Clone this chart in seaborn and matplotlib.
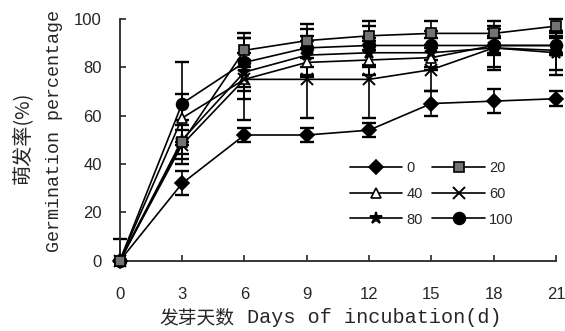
import matplotlib
matplotlib.use("Agg")
import matplotlib.pyplot as plt
import seaborn as sns
import pandas as pd
import numpy as np

days = [0, 3, 6, 9, 12, 15, 18, 21]
labels = ["0", "20", "40", "60", "80", "100"]
v0 = [0, 32, 52, 52, 54, 65, 66, 67]
v20 = [0, 49, 87, 91, 93, 94, 94, 97]
v40 = [0, 59, 75, 82, 83, 84, 89, 89]
v60 = [0, 48, 75, 75, 75, 79, 88, 87]
v80 = [0, 50, 78, 85, 86, 86, 88, 86]
v100 = [0, 65, 82, 88, 89, 89, 89, 89]
e0 = [0, 5, 3, 3, 3, 5, 5, 3]
e20 = [0, 5, 7, 7, 6, 5, 5, 3]
e40 = [0, 10, 8, 6, 6, 5, 3, 3]
e60 = [0, 8, 17, 16, 16, 9, 8, 8]
e80 = [0, 8, 8, 8, 6, 6, 9, 9]
e100 = [9, 17, 10, 8, 8, 6, 4, 4]

values = [v0, v20, v40, v60, v80, v100]
errors = [e0, e20, e40, e60, e80, e100]
markers = ["D", "s", "^", "x", "*", "o"]
faces = ["black", "0.45", "white", "black", "black", "black"]
msizes = [7.5, 7.5, 7, 8, 9, 8.5]
zorders = [3, 3.6, 3, 3, 3, 3.4]

sns.set_style("ticks")
mono = ["Liberation Mono", "Noto Sans CJK SC"]
sans = ["Liberation Sans", "DejaVu Sans"]
cjk = ["Noto Sans CJK SC", "DejaVu Sans"]
plt.rcParams["font.family"] = sans

fig = plt.figure(figsize=(5.65, 3.31), dpi=100)
ax = fig.add_axes([0.212, 0.212, 0.772, 0.731])

for lab, vals, errs, m, fc, ms, zo in zip(labels, values, errors, markers, faces, msizes, zorders):
    df = pd.DataFrame({"day": days, "val": vals})
    lower = np.minimum(errs, vals)
    ax.errorbar(days, vals, yerr=[lower, errs], fmt="none", ecolor="black",
                elinewidth=1.2, capsize=5, capthick=1.7, zorder=2, clip_on=False)
    sns.lineplot(data=df, x="day", y="val", ax=ax, color="black", linewidth=1.2,
                 marker=m, markersize=ms, markerfacecolor=fc,
                 markeredgecolor="black", markeredgewidth=1.2 if m not in ("x", "*") else 1.4,
                 zorder=zo, clip_on=False, label=lab)

ax.set_xlim(0, 21)
ax.set_ylim(0, 100)
ax.set_xticks(days)
ax.set_yticks([0, 20, 40, 60, 80, 100])
ax.tick_params(direction="in", length=4, width=1.2, labelsize=12)
ax.tick_params(axis="x", pad=19)
ax.tick_params(axis="y", pad=13)
for s in ["top", "right"]:
    ax.spines[s].set_visible(False)
for s in ["left", "bottom"]:
    ax.spines[s].set_linewidth(1.3)
ax.set_xlabel("")
ax.set_ylabel("")

# legend: column-major ordering so rows read (0,20), (40,60), (80,100)
h, l = ax.get_legend_handles_labels()
order = [0, 2, 4, 1, 3, 5]
ax.legend([h[i] for i in order], [l[i] for i in order], ncol=2, frameon=False,
          loc="upper left", bbox_to_anchor=(0.606, 0.535), bbox_transform=fig.transFigure,
          handlelength=3.6, handletextpad=0.3, columnspacing=0.65, labelspacing=0.8,
          fontsize=10.5, borderpad=0)

# axis labels
fig.text(0.283, 0.04, "发芽天数", fontsize=13.5, family=cjk, ha="left", va="center")
fig.text(0.437, 0.04, "Days of incubation(d)", fontsize=14.5, family=mono, ha="left", va="center")
fig.text(0.039, 0.583, "萌发率(%)", fontsize=14.5, family=cjk, rotation=90, ha="center", va="center")
fig.text(0.097, 0.605, "Germination percentage", fontsize=13.2, family=mono, rotation=90,
         ha="center", va="center")

fig.savefig("out.png", dpi=100)
